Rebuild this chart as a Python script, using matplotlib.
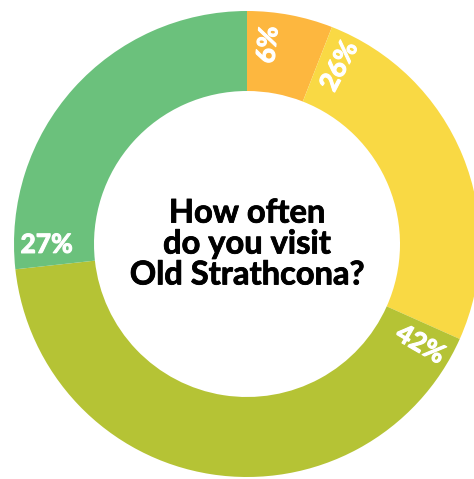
import numpy as np
import matplotlib
matplotlib.use('Agg')
import matplotlib.pyplot as plt
import matplotlib.patheffects as pe

# Donut chart: "How often do you visit Old Strathcona?"

labels = ['6%', '26%', '42%', '27%']
values = [6, 26, 42, 27]
colors = ['#FDB73F', '#F9D944', '#B5C335', '#6BC17C']
title = 'How often\ndo you visit\nOld Strathcona?'

W, H = 474, 479
cx, cy = 247, 244      # donut centre in pixels
r_px = 233.0           # outer radius in pixels

fig = plt.figure(figsize=(W / 100, H / 100), dpi=100)
ax = fig.add_axes([0, 0, 1, 1])
ax.axis('off')

ax.pie(values, colors=colors, startangle=90, counterclock=False,
       radius=1.0, wedgeprops=dict(width=80 / r_px, linewidth=0))

ax.set_xlim(-cx / r_px, (W - cx) / r_px)
ax.set_ylim(-(H - cy) / r_px, cy / r_px)
ax.set_aspect('auto')

# labels sit a few degrees past the start of each wedge, read radially
total = float(sum(values))
starts = np.concatenate([[0], np.cumsum(values)[:-1]]) / total * 360
for lab, s in zip(labels, starts):
    cw = s + 6.0                   # clockwise degrees from 12 o'clock
    th = 90 - cw
    rad = np.deg2rad(th)
    r = 0.86
    x, y = r * np.cos(rad), r * np.sin(rad)
    rot = th
    while rot > 90:
        rot -= 180
    while rot < -90:
        rot += 180
    ax.text(x, y, lab, color='white', fontsize=19, fontweight='bold',
            family='Lato', ha='center', va='center', rotation=rot,
            rotation_mode='anchor',
            path_effects=[pe.withStroke(linewidth=0.8, foreground='white')])

ax.text(0, 0, title, ha='center', va='center', fontsize=23.5,
        fontweight='bold', family='Lato', color='black', linespacing=1.08,
        path_effects=[pe.withStroke(linewidth=0.6, foreground='black')])

fig.savefig('out.png', dpi=100)
